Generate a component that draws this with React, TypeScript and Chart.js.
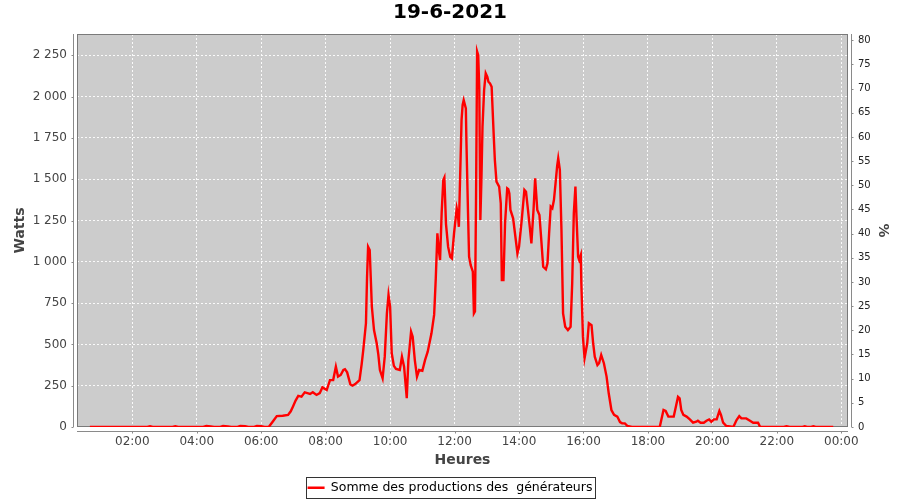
import React, { useEffect, useRef } from 'react';
import { Chart, registerables } from 'chart.js';

Chart.register(...registerables);

const FONT = "'DejaVu Sans', sans-serif";

const TITLE = '19-6-2021';
const SERIES_LABEL = 'Somme des productions des  générateurs';
const X_TITLE = 'Heures';
const Y_TITLE = 'Watts';
const Y2_TITLE = '%';

const X_TICK_HOURS = [2, 4, 6, 8, 10, 12, 14, 16, 18, 20, 22, 24];
const X_MIN = 0.284;
const X_MAX = 24.208;
const Y_MAX = 2379;
const Y2_MAX = 81.3;

const times = [
  '00:41', '01:40', '02:28', '02:33', '02:38', '03:15', '03:20', '03:25', '04:12', '04:18',
  '04:26', '04:32', '04:44', '04:49', '04:58', '05:04', '05:16', '05:21', '05:30', '05:36',
  '05:47', '05:52', '06:00', '06:06', '06:14',
  '06:22', '06:29', '06:40', '06:50', '06:55', '06:59', '07:04', '07:09', '07:15', '07:21',
  '07:26', '07:31', '07:36', '07:43', '07:49', '07:54', '08:02', '08:08', '08:14', '08:19',
  '08:23', '08:28', '08:33', '08:36', '08:40', '08:46', '08:50', '08:55', '09:03', '09:07',
  '09:10', '09:15', '09:17', '09:19', '09:22', '09:24', '09:26', '09:30', '09:35', '09:38',
  '09:41', '09:46', '09:50', '09:54', '09:57', '10:00', '10:03', '10:07', '10:11', '10:18',
  '10:22', '10:26', '10:29', '10:31', '10:34', '10:39', '10:42', '10:46', '10:50', '10:54',
  '11:00', '11:05', '11:10', '11:17', '11:22', '11:25', '11:28', '11:31', '11:33', '11:36',
  '11:39', '11:41', '11:44', '11:48', '11:52', '11:55', '11:59', '12:04', '12:06', '12:08',
  '12:11', '12:13', '12:15', '12:17', '12:21', '12:22', '12:25', '12:27', '12:30', '12:34',
  '12:36', '12:38', '12:40', '12:42', '12:44', '12:46', '12:48', '12:50', '12:52', '12:55',
  '12:58', '13:01', '13:03', '13:06', '13:09', '13:13', '13:15', '13:18', '13:23', '13:26',
  '13:28', '13:31', '13:34', '13:38', '13:40', '13:42', '13:44', '13:49', '13:54', '13:57',
  '14:00', '14:05', '14:10', '14:13', '14:16', '14:20', '14:23', '14:27', '14:30', '14:34',
  '14:38', '14:41', '14:45', '14:50', '14:53', '14:56', '14:59', '15:02', '15:05', '15:08',
  '15:11', '15:13', '15:16', '15:19', '15:22', '15:26', '15:31', '15:36', '15:39', '15:42',
  '15:45', '15:47', '15:50', '15:52', '15:55', '15:56', '15:59', '16:02', '16:07', '16:10',
  '16:15', '16:18', '16:21', '16:26', '16:29', '16:33', '16:38', '16:43', '16:47', '16:52',
  '16:57', '17:03', '17:08', '17:12', '17:17', '17:22', '17:30', '18:22', '18:29', '18:33',
  '18:38', '18:44', '18:48', '18:52', '18:56', '18:59', '19:02', '19:06', '19:12', '19:18',
  '19:24', '19:30', '19:33', '19:38', '19:44', '19:49', '19:54', '19:58', '20:03', '20:08',
  '20:13', '20:16', '20:20', '20:26', '20:39', '20:45', '20:50', '20:54', '21:03', '21:10',
  '21:16', '21:25', '21:29', '22:13', '22:18', '22:24', '22:48', '22:52', '22:56', '23:04',
  '23:08', '23:12', '23:45',
];

const watts = [
  0, 0, 0, 4, 0, 0, 5, 0, 0, 6,
  4, 0, 0, 6, 4, 0, 0, 6, 5, 0,
  0, 6, 5, 0, 0,
  35, 66, 68, 73, 95, 123, 160, 188, 184, 210,
  205, 200, 210, 194, 205, 240, 224, 284, 284, 365,
  305, 315, 345, 350, 331, 258, 250, 260, 284, 380,
  466, 628, 900, 1091, 1071, 900, 728, 587, 507, 440,
  345, 295, 426, 688, 799, 728, 446, 370, 351, 345,
  425, 365, 250, 174, 405, 577, 547, 405, 305, 345,
  340, 405, 456, 567, 680, 900, 1172, 1060, 1011, 1300,
  1495, 1510, 1230, 1090, 1030, 1021, 1172, 1324, 1290, 1212,
  1600, 1858, 1950, 1979, 1929, 1737, 1300, 1031, 980, 940,
  688, 700, 1400, 2272, 2250, 2050, 1253, 1500, 1818, 2040,
  2141, 2120, 2090, 2080, 2060, 1757, 1616, 1485, 1455, 1354,
  890, 890, 1233, 1445, 1440, 1414, 1314, 1263, 1132, 1051,
  1091, 1253, 1435, 1424, 1334, 1212, 1112, 1314, 1506, 1314,
  1283, 1152, 970, 955, 991, 1172, 1334, 1324, 1374, 1475,
  1580, 1626, 1556, 1193, 688, 607, 587, 607, 870, 1293,
  1455, 1273, 1031, 1011, 1041, 870, 547, 416, 507, 628,
  617, 507, 426, 375, 386, 436, 386, 305, 204, 103,
  73, 63, 30, 22, 22, 6, 0, 0, 103, 97,
  63, 63, 63, 123, 183, 174, 103, 73, 63, 46,
  26, 32, 38, 26, 26, 38, 46, 32, 46, 46,
  97, 73, 26, 6, 0, 42, 66, 52, 52, 38,
  26, 26, 0, 0, 4, 0, 0, 4, 0, 0,
  4, 0, 0,
];

const toHours = (t: string) => {
  const [h, m] = t.split(':').map(Number);
  return h + m / 60;
};

const pad2 = (n: number) => (n < 10 ? '0' + n : String(n));

const fmtWatts = (v: number) => {
  const s = String(Math.round(v));
  return s.length > 3 ? s.slice(0, -3) + '\u00A0' + s.slice(-3) : s;
};

const framePlugin = {
  id: 'frame',
  beforeDraw(chart: any) {
    const { ctx, chartArea: a } = chart;
    ctx.save();
    ctx.fillStyle = '#cccccc';
    ctx.fillRect(a.left, a.top, a.right - a.left, a.bottom - a.top);
    ctx.restore();
  },
  beforeDatasetsDraw(chart: any) {
    const { ctx, chartArea: a, scales } = chart;
    ctx.save();
    ctx.strokeStyle = '#7a7a7a';
    ctx.lineWidth = 1;
    ctx.strokeRect(a.left + 0.5, a.top + 0.5, a.right - a.left - 1, a.bottom - a.top - 1);
    ctx.strokeStyle = '#8a8a8a';
    ctx.beginPath();
    const lx = a.left - 4 + 0.5;
    const rx = a.right + 4 - 0.5;
    const by = a.bottom + 4 + 0.5;
    ctx.moveTo(lx, a.top);
    ctx.lineTo(lx, a.bottom);
    ctx.moveTo(rx, a.top);
    ctx.lineTo(rx, a.bottom);
    ctx.moveTo(a.left, by);
    ctx.lineTo(a.right, by);
    scales.y.ticks.forEach((t: any) => {
      const p = Math.round(scales.y.getPixelForValue(t.value)) + 0.5;
      ctx.moveTo(lx - 2, p);
      ctx.lineTo(lx, p);
    });
    scales.y1.ticks.forEach((t: any) => {
      const p = Math.round(scales.y1.getPixelForValue(t.value)) + 0.5;
      ctx.moveTo(rx, p);
      ctx.lineTo(rx + 2, p);
    });
    scales.x.ticks.forEach((t: any) => {
      const p = Math.round(scales.x.getPixelForValue(t.value)) + 0.5;
      ctx.moveTo(p, by);
      ctx.lineTo(p, by + 2);
    });
    ctx.stroke();
    ctx.restore();
  },
  afterDraw(chart: any) {
    const lg = chart.legend;
    if (!lg || !lg.legendHitBoxes || !lg.legendHitBoxes.length) return;
    const hb = lg.legendHitBoxes[0];
    const { ctx } = chart;
    const cy = hb.top + hb.height / 2;
    ctx.save();
    ctx.strokeStyle = '#333333';
    ctx.lineWidth = 1;
    ctx.strokeRect(Math.round(hb.left - 2) + 0.5, Math.round(cy - 11) + 0.5, Math.round(hb.width + 4), 21);
    ctx.restore();
  },
};

export default function App() {
  const ref = useRef<HTMLCanvasElement | null>(null);

  useEffect(() => {
    if (!ref.current) return;
    const data = times.map((t, i) => ({ x: toHours(t), y: watts[i] }));
    const gridColor = 'rgba(255,255,255,0.9)';
    const chart = new Chart(ref.current, {
      type: 'line',
      data: {
        datasets: [
          {
            label: SERIES_LABEL,
            data,
            borderColor: '#ff0000',
            backgroundColor: '#ff0000',
            borderWidth: 2.4,
            pointRadius: 0,
            tension: 0,
            fill: false,
          },
        ],
      },
      options: {
        responsive: false,
        animation: false,
        devicePixelRatio: 1,
        layout: { padding: { left: 0, right: 0, top: 0, bottom: -4 } },
        plugins: {
          title: {
            display: true,
            text: TITLE,
            color: '#000000',
            font: { family: FONT, size: 20, weight: 'bold' },
            padding: { top: 1, bottom: 9 },
          },
          legend: {
            position: 'bottom',
            labels: {
              usePointStyle: true,
              pointStyle: 'line',
              pointStyleWidth: 17,
              color: '#000000',
              font: { family: FONT, size: 12.5 },
              padding: 6,
            },
          },
          tooltip: { enabled: false },
        },
        scales: {
          x: {
            type: 'linear',
            min: X_MIN,
            max: X_MAX,
            afterBuildTicks: (ax: any) => {
              ax.ticks = X_TICK_HOURS.map((v) => ({ value: v }));
            },
            afterFit: (s: any) => {
              s.height = 48.5;
            },
            ticks: {
              autoSkip: false,
              maxRotation: 0,
              padding: 7.5,
              color: '#444444',
              font: { family: FONT, size: 12 },
              callback: (v: any) => pad2(Number(v) % 24) + ':00',
            },
            grid: { color: gridColor, drawTicks: false, lineWidth: 1 },
            border: { display: false, dash: [2, 2] },
            title: {
              display: true,
              text: X_TITLE,
              color: '#444444',
              font: { family: FONT, size: 14, weight: 'bold' },
              padding: { top: 0, bottom: 7 },
            },
          },
          y: {
            type: 'linear',
            position: 'left',
            min: 0,
            max: Y_MAX,
            afterFit: (s: any) => {
              s.width = 77;
            },
            ticks: {
              stepSize: 250,
              includeBounds: false,
              padding: 10,
              color: '#444444',
              font: { family: FONT, size: 12 },
              callback: (v: any) => fmtWatts(Number(v)),
            },
            grid: { color: gridColor, drawTicks: false, lineWidth: 1 },
            border: { display: false, dash: [2, 2] },
            title: {
              display: true,
              text: Y_TITLE,
              color: '#444444',
              font: { family: FONT, size: 14, weight: 'bold' },
              padding: { top: 12, bottom: 0 },
            },
          },
          y1: {
            type: 'linear',
            position: 'right',
            min: 0,
            max: Y2_MAX,
            afterFit: (s: any) => {
              s.width = 52;
            },
            ticks: {
              stepSize: 5,
              includeBounds: false,
              padding: 10,
              color: '#222222',
              font: { family: FONT, size: 10 },
            },
            grid: { drawOnChartArea: false, drawTicks: false },
            border: { display: false },
            title: {
              display: true,
              text: Y2_TITLE,
              color: '#444444',
              font: { family: FONT, size: 14, weight: 'bold' },
              padding: { top: 9, bottom: 0 },
            },
          },
        },
      },
      plugins: [framePlugin],
    } as any);
    return () => chart.destroy();
  }, []);

  return (
    <div style={{ position: 'fixed', left: 0, top: 0, width: 900, height: 500, background: '#ffffff' }}>
      <canvas ref={ref} width={900} height={500} style={{ display: 'block' }} />
    </div>
  );
}
